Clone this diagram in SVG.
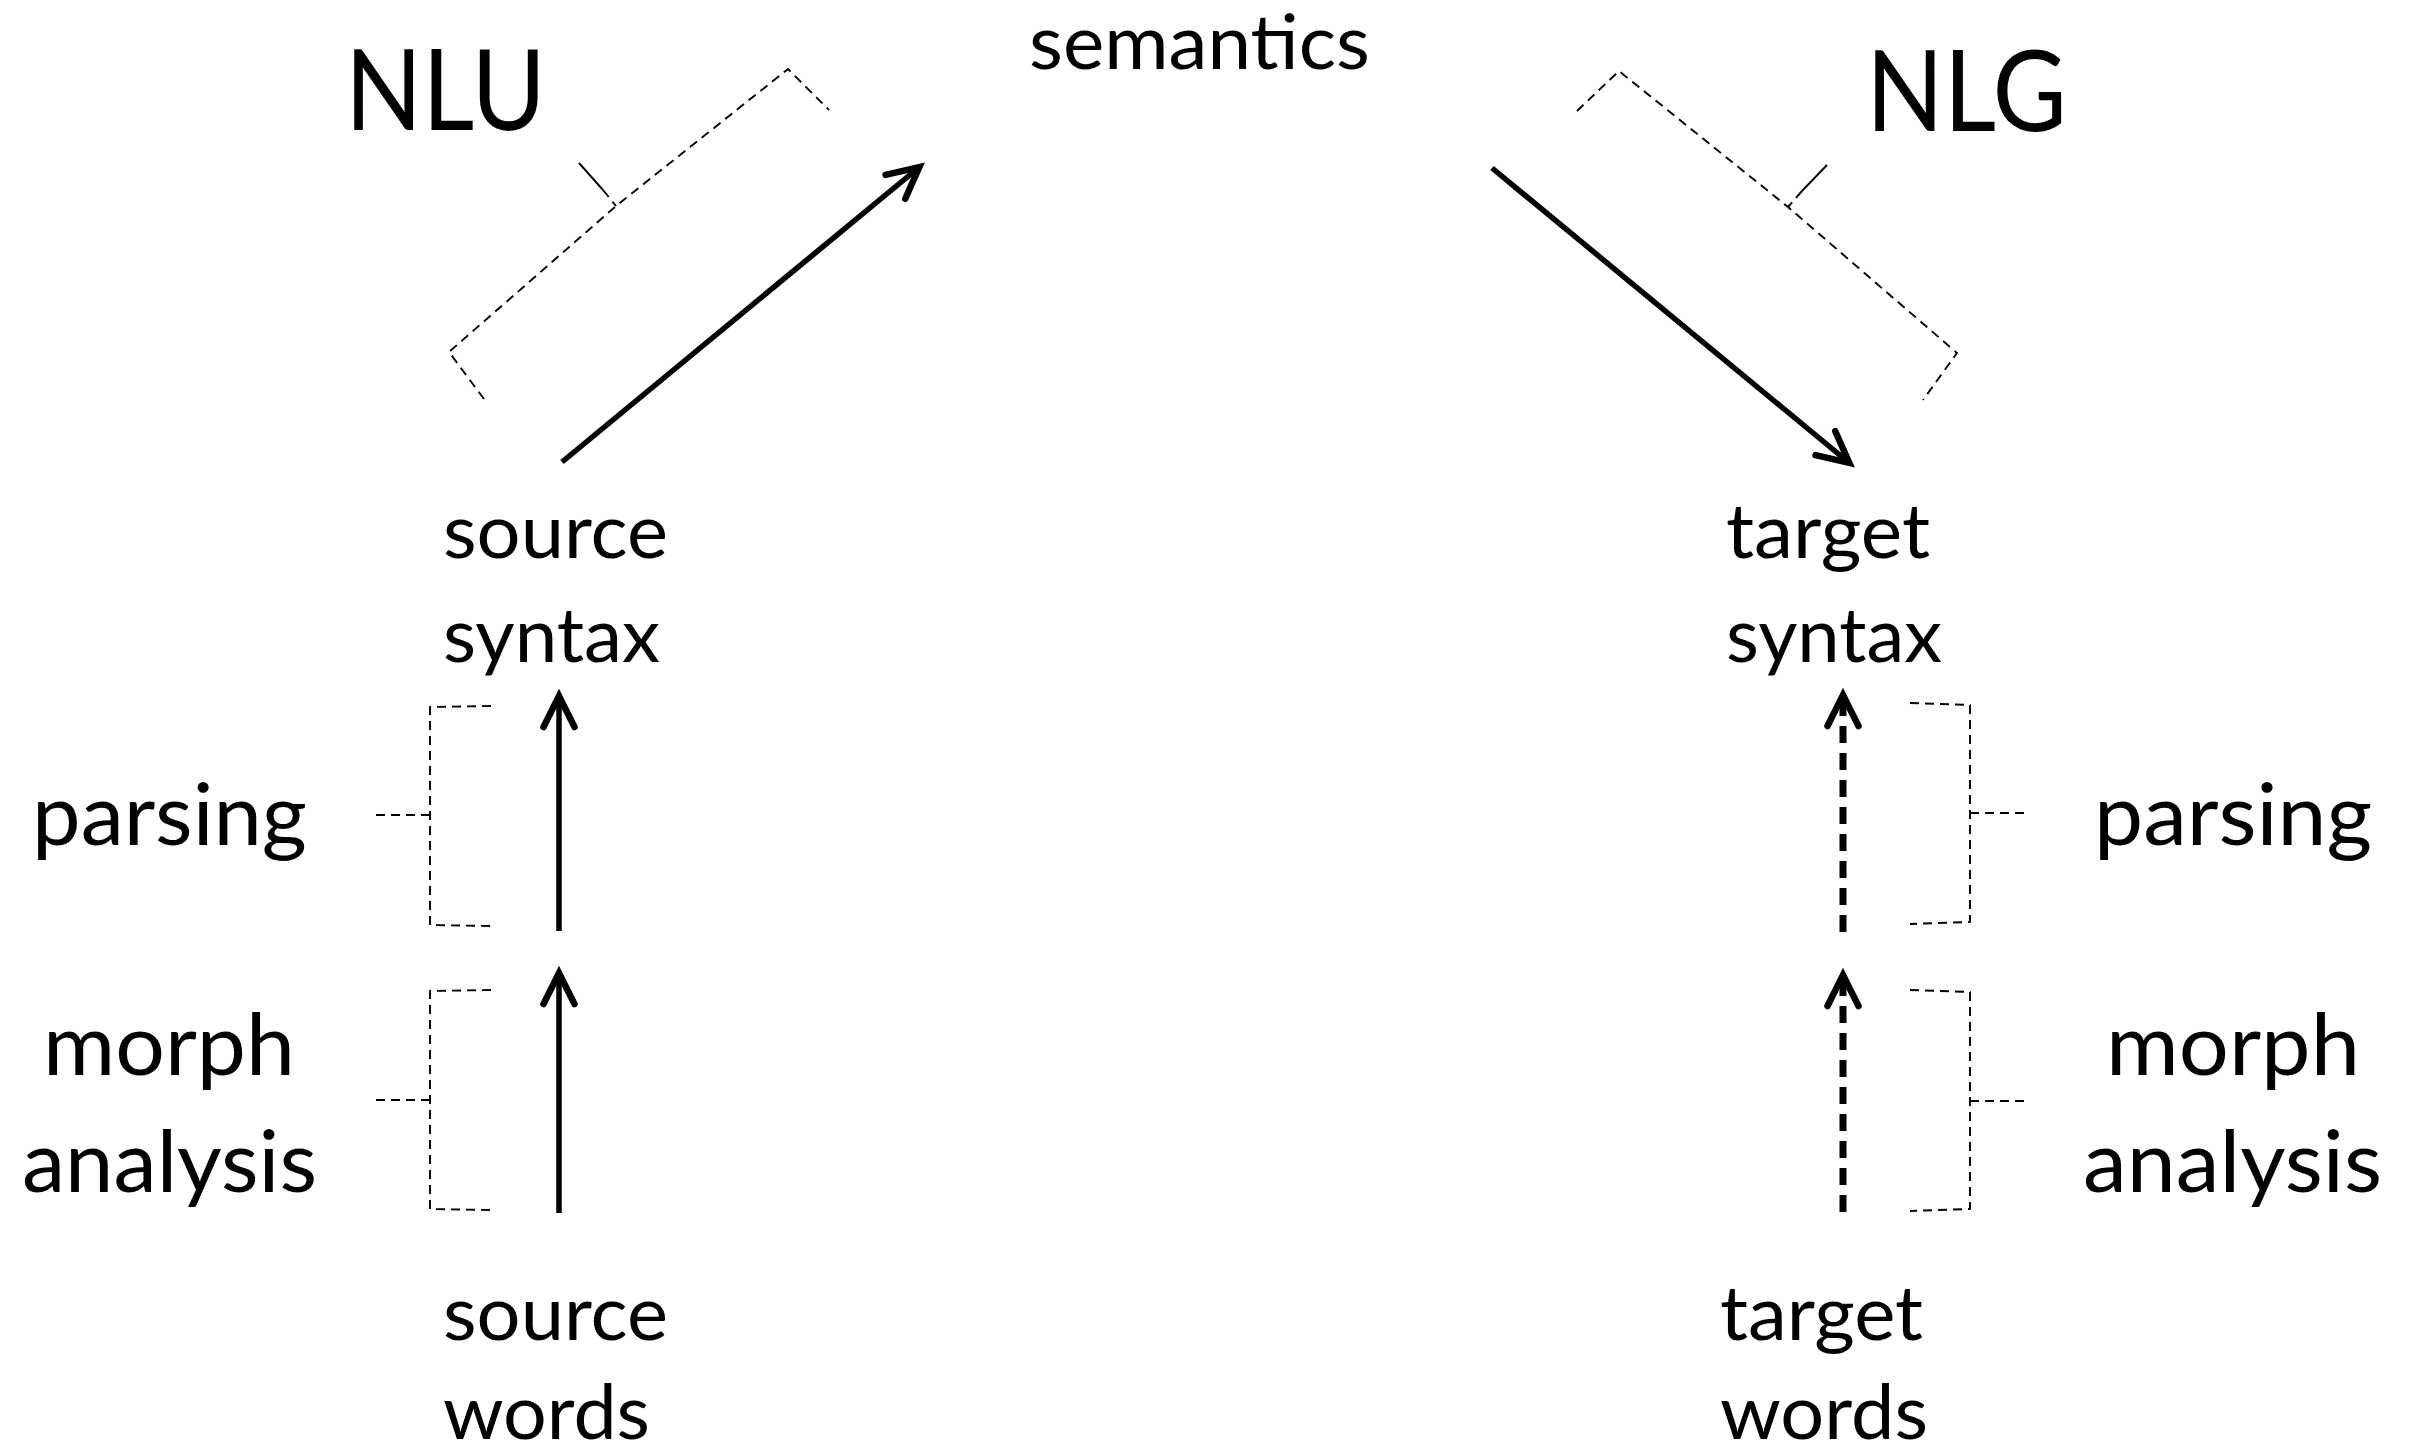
<svg xmlns="http://www.w3.org/2000/svg" width="2413" height="1448" viewBox="0 0 2413 1448">
  <style>
    text { font-family: Lato, "Open Sans", "Liberation Sans", sans-serif; fill: #000; }
    .big { font-size: 112px; }
    .lbl { font-size: 76px; }
    .op { font-size: 85px; }
    .arrow { fill: none; stroke: #000; stroke-width: 5.5; stroke-linecap: butt; }
    .dash-arrow { stroke-width: 7; stroke-dasharray: 17 10; }
    .brace { fill: none; stroke: #000; stroke-width: 1.9; stroke-dasharray: 9 6; stroke-linejoin: round; }
    .tick { fill: none; stroke: #000; stroke-width: 1.9; }
  </style>
  <defs>
    <marker id="head" markerUnits="userSpaceOnUse" viewBox="-40 -20 50 40" markerWidth="50" markerHeight="40" refX="-3" refY="0" orient="auto" overflow="visible">
      <path d="M-31,-15.5 L0,0 L-31,15.5" fill="none" stroke="#000" stroke-width="6.5" stroke-linecap="round" stroke-linejoin="miter"/>
    </marker>
  </defs>
  <rect width="2413" height="1448" fill="#fff"/>

  <g id="semantics"><text class="lbl" x="1029" y="69" textLength="341" lengthAdjust="spacingAndGlyphs">semantics</text></g>
  <g id="nlu"><text class="big" x="345" y="130" textLength="201" lengthAdjust="spacingAndGlyphs">NLU</text></g>
  <g id="nlg"><text class="big" x="1866" y="131" textLength="201" lengthAdjust="spacingAndGlyphs">NLG</text></g>

  <g id="source-syntax">
    <text class="lbl" x="443" y="558" textLength="225" lengthAdjust="spacingAndGlyphs">source</text>
    <text class="lbl" x="443" y="662" textLength="217" lengthAdjust="spacingAndGlyphs">syntax</text>
  </g>
  <g id="target-syntax">
    <text class="lbl" x="1726" y="558" textLength="204" lengthAdjust="spacingAndGlyphs">target</text>
    <text class="lbl" x="1726" y="662" textLength="216" lengthAdjust="spacingAndGlyphs">syntax</text>
  </g>
  <g id="source-words">
    <text class="lbl" x="443" y="1340" textLength="225" lengthAdjust="spacingAndGlyphs">source</text>
    <text class="lbl" x="443" y="1439" textLength="207" lengthAdjust="spacingAndGlyphs">words</text>
  </g>
  <g id="target-words">
    <text class="lbl" x="1720" y="1340" textLength="203" lengthAdjust="spacingAndGlyphs">target</text>
    <text class="lbl" x="1720" y="1439" textLength="208" lengthAdjust="spacingAndGlyphs">words</text>
  </g>

  <g id="parsing-left"><text class="op" x="32" y="845" textLength="275" lengthAdjust="spacingAndGlyphs">parsing</text></g>
  <g id="morph-left">
    <text class="op" x="43" y="1075" textLength="252" lengthAdjust="spacingAndGlyphs">morph</text>
    <text class="op" x="22" y="1192" textLength="295" lengthAdjust="spacingAndGlyphs">analysis</text>
  </g>
  <g id="parsing-right"><text class="op" x="2094" y="845" textLength="278" lengthAdjust="spacingAndGlyphs">parsing</text></g>
  <g id="morph-right">
    <text class="op" x="2106" y="1075" textLength="254" lengthAdjust="spacingAndGlyphs">morph</text>
    <text class="op" x="2083" y="1192" textLength="299" lengthAdjust="spacingAndGlyphs">analysis</text>
  </g>

  <g id="brackets">
    <path class="brace" d="M484,399 L449,352 L616,206 L788,69 L829,110"/>
    <path class="tick" d="M579,163 L603,190"/>
    <path class="brace" d="M603,190 L616,206"/>
    <path class="brace" d="M1577,111 L1619,71 L1788,207 L1957,353 L1923,400"/>
    <path class="tick" d="M1827,165 L1802,191"/>
    <path class="brace" d="M1802,191 L1788,207"/>
    <path class="brace" d="M491,706 L430,707 L430,925 L491,926 M430,815 L370,815"/>
    <path class="brace" d="M491,990 L430,991 L430,1209 L491,1210 M430,1100 L370,1100"/>
    <path class="brace" d="M1910,703 L1970,705 L1970,922 L1910,924 M1970,813 L2030,813"/>
    <path class="brace" d="M1910,990 L1970,992 L1970,1209 L1910,1211 M1970,1101 L2030,1101"/>
  </g>

  <g id="connectors">
    <line class="arrow" x1="562" y1="462" x2="917" y2="169" marker-end="url(#head)"/>
    <line class="arrow" x1="1492" y1="168" x2="1847" y2="461" marker-end="url(#head)"/>
    <line class="arrow" x1="559" y1="931" x2="559" y2="699" marker-end="url(#head)"/>
    <line class="arrow" x1="559" y1="1213" x2="559" y2="976" marker-end="url(#head)"/>
    <line class="arrow dash-arrow" x1="1843" y1="932" x2="1843" y2="698" marker-end="url(#head)"/>
    <line class="arrow dash-arrow" x1="1843" y1="1212" x2="1843" y2="978" marker-end="url(#head)"/>
  </g>
</svg>
